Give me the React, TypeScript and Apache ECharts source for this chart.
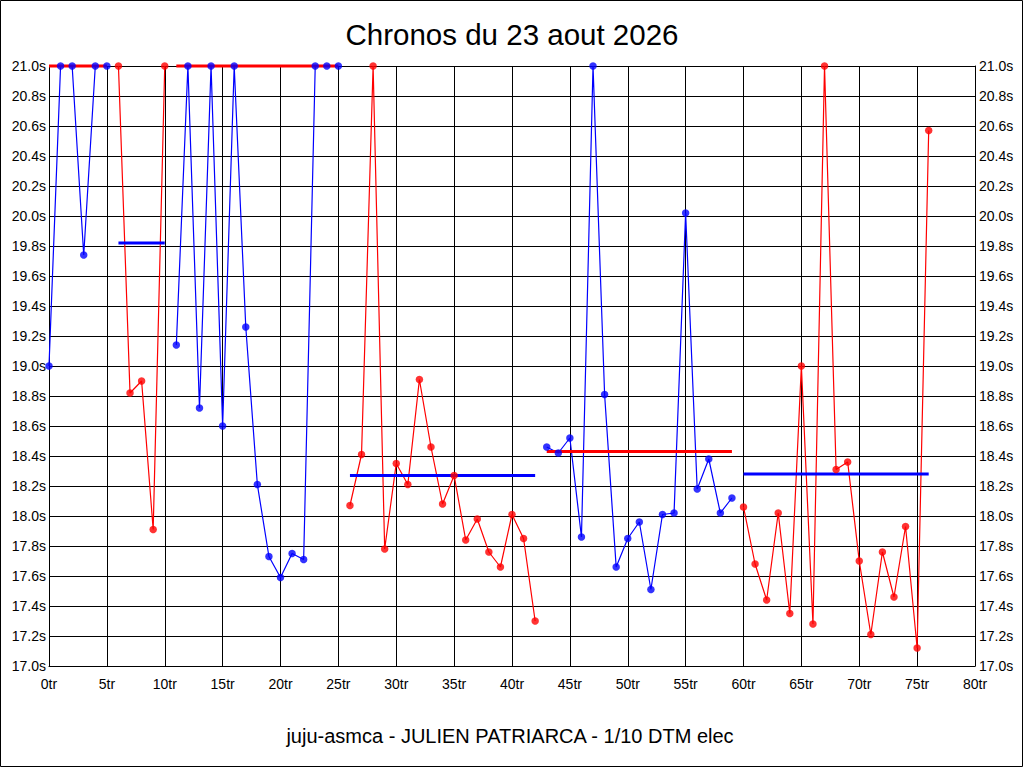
import React, { useEffect, useRef } from "react";
import * as echarts from "echarts";

const titleText = "Chronos du 23 aout 2026";
const subtitleText = "juju-asmca - JULIEN PATRIARCA - 1/10 DTM elec";

// lap axis 0..80, time axis 17.0..21.0 s (values above 21 shown clipped at 21.0)
const xMin = 0;
const xMax = 80;
const xInterval = 5;
const yMin = 17.0;
const yMax = 21.0;
const yInterval = 0.2;

const segStarts = [0, 6, 11, 26, 43, 60];
const segA = [19.0, 21.0, 21.0, 19.74, 21.0, 21.0];
const segB = [21.0, 18.82, 18.9, 17.91, 21.0];
const segC = [19.14, 21.0, 18.72, 21.0, 18.6, 21.0, 19.26, 18.21, 17.73, 17.59, 17.75, 17.71, 21.0, 21.0, 21.0];
const segD = [18.07, 18.41, 21.0, 17.78, 18.35, 18.21, 18.91, 18.46, 18.08, 18.27, 17.84, 17.98, 17.76, 17.66, 18.01, 17.85, 17.3];
const segE = [18.46, 18.42, 18.52, 17.86, 21.0, 18.81, 17.66, 17.85, 17.96, 17.51, 18.01, 18.02, 20.02, 18.18, 18.38, 18.02, 18.12];
const segF = [18.06, 17.68, 17.44, 18.02, 17.35, 19.0, 17.28, 21.0, 18.31, 18.36, 17.7, 17.21, 17.76, 17.46, 17.93, 17.12, 20.57];
const segments = [segA, segB, segC, segD, segE, segF];
const segColors = ["#0000ff", "#ff0000", "#0000ff", "#ff0000", "#0000ff", "#ff0000"];
const avgValues = [21.0, 19.82, 21.0, 18.27, 18.43, 18.28];
const avgColors = ["#ff0000", "#0000ff", "#ff0000", "#0000ff", "#ff0000", "#0000ff"];

const FONT = "'Liberation Sans', Arial, sans-serif";

export default function App() {
  const ref = useRef<HTMLDivElement>(null);
  useEffect(() => {
    if (!ref.current) return;
    const chart = echarts.init(ref.current, null, { renderer: "svg" });
    const series: any[] = [];
    segments.forEach((vals, i) => {
      const start = segStarts[i];
      const data = vals.map((v, k) => [start + k, v]);
      series.push({
        type: "line",
        data,
        showSymbol: false,
        symbol: "none",
        clip: false,
        z: 2,
        lineStyle: { color: segColors[i], width: 1.2 },
        itemStyle: { color: segColors[i] },
      });
    });
    segments.forEach((vals, i) => {
      const start = segStarts[i];
      const end = start + vals.length - 1;
      series.push({
        type: "line",
        data: [
          [start, avgValues[i]],
          [end, avgValues[i]],
        ],
        showSymbol: false,
        symbol: "none",
        clip: false,
        z: 3,
        lineStyle: { color: avgColors[i], width: 3 },
      });
    });
    segments.forEach((vals, i) => {
      const start = segStarts[i];
      const data = vals.map((v, k) => [start + k, v]);
      series.push({
        type: "scatter",
        data,
        symbol: "circle",
        symbolSize: 7.5,
        clip: false,
        z: 4,
        itemStyle: { color: segColors[i] },
      });
    });

    chart.setOption({
      animation: false,
      backgroundColor: "#ffffff",
      textStyle: { fontFamily: FONT },
      grid: { left: 49, right: 49, top: 66, height: 600, containLabel: false },
      xAxis: {
        type: "value",
        min: xMin,
        max: xMax,
        interval: xInterval,
        axisLine: { show: true, lineStyle: { color: "#000", width: 1 } },
        axisTick: { show: false },
        splitLine: { show: true, lineStyle: { color: "#000", width: 1 } },
        axisLabel: {
          color: "#000",
          fontSize: 14,
          fontFamily: FONT,
          margin: 11,
          showMinLabel: true,
          showMaxLabel: true,
          formatter: (v: number) => `${Math.round(v)}tr`,
        },
      },
      yAxis: [
        {
          type: "value",
          min: yMin,
          max: yMax,
          interval: yInterval,
          position: "left",
          axisLine: { show: true, lineStyle: { color: "#000", width: 1 } },
          axisTick: { show: false },
          splitLine: { show: true, lineStyle: { color: "#000", width: 1 } },
          axisLabel: {
            color: "#000",
            fontSize: 14,
            fontFamily: FONT,
            margin: 3,
            showMinLabel: true,
            showMaxLabel: true,
            formatter: (v: number) => `${v.toFixed(1)}s`,
          },
        },
        {
          type: "value",
          min: yMin,
          max: yMax,
          interval: yInterval,
          position: "right",
          axisLine: { show: true, onZero: false, lineStyle: { color: "#000", width: 1 } },
          axisTick: { show: false },
          splitLine: { show: false },
          axisLabel: {
            color: "#000",
            fontSize: 14,
            fontFamily: FONT,
            margin: 4,
            showMinLabel: true,
            showMaxLabel: true,
            formatter: (v: number) => `${v.toFixed(1)}s`,
          },
        },
      ],
      graphic: [
        {
          type: "rect",
          shape: { x: 0.5, y: 0.5, width: 1022, height: 766 },
          style: { fill: "none", stroke: "#000", lineWidth: 1 },
          z: 0,
          silent: true,
        },
        {
          type: "text",
          x: 512,
          y: 34,
          style: {
            text: titleText,
            fill: "#000",
            font: `29.5px ${FONT}`,
            textAlign: "center",
            textVerticalAlign: "middle",
          },
        },
        {
          type: "text",
          x: 510,
          y: 736,
          style: {
            text: subtitleText,
            fill: "#000",
            font: `20px ${FONT}`,
            textAlign: "center",
            textVerticalAlign: "middle",
          },
        },
      ],
      series,
    });
    return () => chart.dispose();
  }, []);
  return (
    <div
      ref={ref}
      style={{ position: "absolute", left: 0, top: 0, width: 1024, height: 768, background: "#fff" }}
    />
  );
}
